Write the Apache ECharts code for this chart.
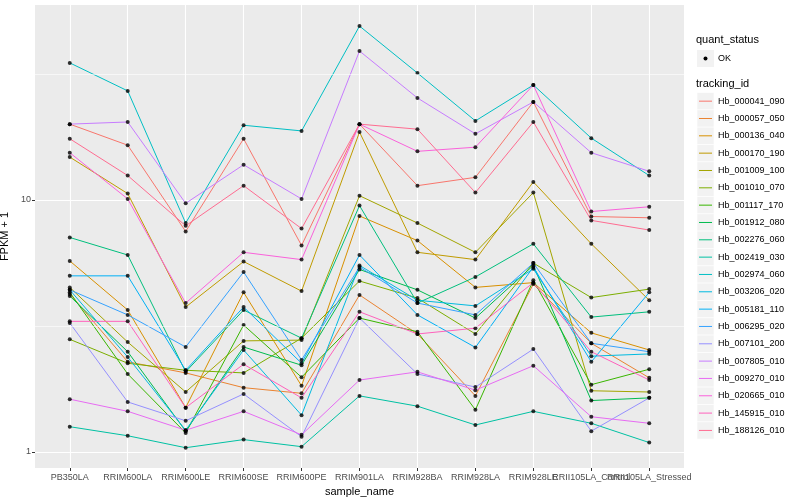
<!DOCTYPE html>
<html><head><meta charset="utf-8">
<script src="https://cdn.jsdelivr.net/npm/echarts@6/dist/echarts.min.js"></script>
<style>html,body{margin:0;padding:0;background:#fff}#c{width:800px;height:500px}</style>
</head><body><div id="c"></div>
<script>
// ---- data ----
const categories = ['PB350LA','RRIM600LA','RRIM600LE','RRIM600SE','RRIM600PE','RRIM901LA','RRIM928BA','RRIM928LA','RRIM928LE','RRII105LA_Control','RRII105LA_Stressed'];
const trackingIds = ['Hb_000041_090','Hb_000057_050','Hb_000136_040','Hb_000170_190','Hb_001009_100','Hb_001010_070','Hb_001117_170','Hb_001912_080','Hb_002276_060','Hb_002419_030','Hb_002974_060','Hb_003206_020','Hb_005181_110','Hb_006295_020','Hb_007101_200','Hb_007805_010','Hb_009270_010','Hb_020665_010','Hb_145915_010','Hb_188126_010'];
const colors = ['#F8766D','#EA8331','#D89000','#C09B00','#A3A500','#7CAE00','#39B600','#00BB4E','#00BF7D','#00C1A3','#00BFC4','#00BAE0','#00B0F6','#35A2FF','#9590FF','#C77CFF','#E76BF3','#FA62DB','#FF62BC','#FF6C91'];
const yTicks = [1, 10];
const minorBreaks = [3.1623, 31.623];

const Hb_000041_090 = [20.0,16.5,7.5,17.5,6.6,20.0,11.4,12.3,24.5,8.6,8.5];
const Hb_000057_050 = [4.24,2.28,2.06,1.8,1.71,4.2,2.94,1.67,4.64,2.7,1.97];
const Hb_000136_040 = [5.73,3.66,1.5,4.3,1.83,8.64,6.9,4.5,4.7,2.97,2.54];
const Hb_000170_190 = [14.8,10.6,3.76,5.7,4.35,18.6,6.2,5.8,11.8,6.7,4.0];
const Hb_001009_100 = [4.5,2.73,1.73,2.76,2.78,10.4,8.1,6.2,10.7,1.75,1.73];
const Hb_001010_070 = [2.8,2.25,2.11,2.06,2.83,4.77,4.08,2.94,5.62,4.1,4.43];
const Hb_001117_170 = [4.3,2.04,1.19,3.19,1.98,3.4,3.0,1.47,4.8,1.85,2.13];
const Hb_001912_080 = [4.16,2.5,1.21,2.61,2.21,5.3,4.4,3.4,5.5,1.6,1.64];
const Hb_002276_060 = [7.1,6.05,2.08,3.66,2.83,9.5,3.9,4.95,6.7,3.43,3.6];
const Hb_002419_030 = [1.26,1.16,1.04,1.12,1.05,1.67,1.52,1.28,1.45,1.30,1.09];
const Hb_002974_060 = [35.0,27.1,8.1,19.8,18.8,49.0,31.9,20.6,28.6,17.6,12.5];
const Hb_003206_020 = [4.4,2.38,1.22,2.54,1.40,5.5,4.0,3.8,5.33,2.4,2.45];
const Hb_005181_110 = [5.0,5.0,2.11,3.76,2.25,6.05,3.5,2.6,5.42,2.28,4.3];
const Hb_006295_020 = [4.4,3.5,2.61,5.18,2.32,5.42,3.9,3.5,5.62,2.7,2.5];
const Hb_007101_200 = [3.25,1.58,1.33,1.70,1.15,3.4,2.04,1.81,2.56,1.21,1.64];
const Hb_007805_010 = [20.0,20.4,9.7,13.8,10.1,39.0,25.4,18.3,24.5,15.4,13.0];
const Hb_009270_010 = [1.62,1.45,1.22,1.45,1.17,1.93,2.08,1.76,2.2,1.38,1.30];
const Hb_020665_010 = [15.4,10.1,3.9,6.2,5.8,20.0,15.6,16.2,28.6,9.0,9.4];
const Hb_145915_010 = [3.3,3.3,1.5,2.23,1.64,3.6,2.94,3.1,4.7,2.5,1.93];
const Hb_188126_010 = [17.5,12.5,7.9,11.4,7.7,20.0,19.1,10.7,20.4,8.3,7.6];

const seriesValues = [Hb_000041_090,Hb_000057_050,Hb_000136_040,Hb_000170_190,Hb_001009_100,Hb_001010_070,Hb_001117_170,Hb_001912_080,Hb_002276_060,Hb_002419_030,Hb_002974_060,Hb_003206_020,Hb_005181_110,Hb_006295_020,Hb_007101_200,Hb_007805_010,Hb_009270_010,Hb_020665_010,Hb_145915_010,Hb_188126_010];

// ---- chart ----
const FONT = '"Liberation Sans", Arial, sans-serif';
const chart = echarts.init(document.getElementById('c'), null, {renderer:'canvas'});
const catIdx = categories.map((c,i)=>i);
const nCat = categories.length;

const lineSeries = seriesValues.map((vals,k)=>({
  name: trackingIds[k], type:'line', symbol:'none', z:2, silent:true,
  lineStyle:{color:colors[k], width:1},
  data: vals.map((v,i)=>[i,v])
}));
const pointSeries = seriesValues.map((vals,k)=>({
  name: trackingIds[k]+'_pts', type:'scatter', symbol:'circle', symbolSize:4, z:3, silent:true,
  itemStyle:{color:'#000'},
  data: vals.map((v,i)=>[i,v])
}));
const gridSeries = {
  type:'line', data:[], z:1, silent:true,
  markLine:{silent:true, symbol:'none', label:{show:false},
    lineStyle:{color:'#ffffff', width:0.6, type:'solid'},
    data: minorBreaks.map(v=>({yAxis:v}))}
};

// legend drawn as graphic
const lg = [];
const LX = 697, ROW = 17.33, TOP = 92.5;
lg.push({type:'text', left:LX-1, top:34, style:{text:'quant_status', font:'11px '+FONT, fill:'#000'}});
lg.push({type:'rect', shape:{x:LX, y:50, width:17, height:17}, style:{fill:'#F2F2F2'}});
lg.push({type:'circle', shape:{cx:LX+8.5, cy:58.5, r:2}, style:{fill:'#000'}});
lg.push({type:'text', x:LX+21, y:58.5, style:{text:'OK', font:'9px '+FONT, fill:'#000', verticalAlign:'middle'}});
lg.push({type:'text', left:LX-1, top:78, style:{text:'tracking_id', font:'11px '+FONT, fill:'#000'}});
trackingIds.forEach((id,k)=>{
  const y = TOP + k*ROW;
  lg.push({type:'rect', shape:{x:LX, y:y, width:17, height:ROW}, style:{fill:'#F2F2F2', stroke:'#fff', lineWidth:0.6}});
  lg.push({type:'line', shape:{x1:LX+2, y1:y+ROW/2, x2:LX+15, y2:y+ROW/2}, style:{stroke:colors[k], lineWidth:1}});
  lg.push({type:'text', x:LX+21, y:y+ROW/2, style:{text:id, font:'9px '+FONT, fill:'#000', verticalAlign:'middle'}});
});

const labelStyle = {color:'#4D4D4D', fontSize:9, fontFamily:FONT, margin:5, hideOverlap:false,
  formatter:(v)=>categories[Math.round(v)]};

// main x axis (ticks, grid, first labels) + one axis per crowded end label
const xAxes = [{type:'value', min:-0.6, max:10.6, position:'bottom',
    name:'sample_name', nameLocation:'middle', nameGap:16,
    nameTextStyle:{color:'#000', fontSize:11, fontFamily:FONT},
    axisLine:{show:false, onZero:false},
    axisTick:{show:true, length:3, customValues:catIdx, lineStyle:{color:'#333'}},
    axisLabel:Object.assign({customValues:catIdx.slice(0, nCat-2)}, labelStyle),
    splitLine:{show:true, lineStyle:{color:'#fff', width:1.1}}
  }];
[nCat-2, nCat-1].forEach(i=>{
  xAxes.push({type:'value', min:-0.6, max:10.6, position:'bottom', offset:0,
    axisLine:{show:false, onZero:false},
    axisTick:{show:false, customValues:[i]},
    axisLabel:Object.assign({customValues:[i]}, labelStyle),
    splitLine:{show:false}});
});

chart.setOption({
  animation:false,
  backgroundColor:'#ffffff',
  grid:{left:35, right:116, top:5, bottom:32, show:true, backgroundColor:'#EBEBEB', borderWidth:0,
    containLabel:false, outerBoundsMode:'none'},
  xAxis: xAxes,
  yAxis:{type:'log', logBase:10, min:0.864, max:59.4,
    name:'FPKM + 1', nameLocation:'middle', nameGap:17, nameRotate:90,
    nameTextStyle:{color:'#000', fontSize:11, fontFamily:FONT},
    axisLine:{show:false, onZero:false},
    axisTick:{show:true, length:3, customValues:yTicks, lineStyle:{color:'#333'}},
    axisLabel:{customValues:yTicks, color:'#4D4D4D', fontSize:9, fontFamily:FONT, margin:4,
      hideOverlap:false, formatter:(v)=>String(Math.round(v))},
    splitLine:{show:true, lineStyle:{color:'#fff', width:1.1}}
  },
  graphic: lg,
  series: [gridSeries].concat(lineSeries, pointSeries)
});
</script></body></html>
